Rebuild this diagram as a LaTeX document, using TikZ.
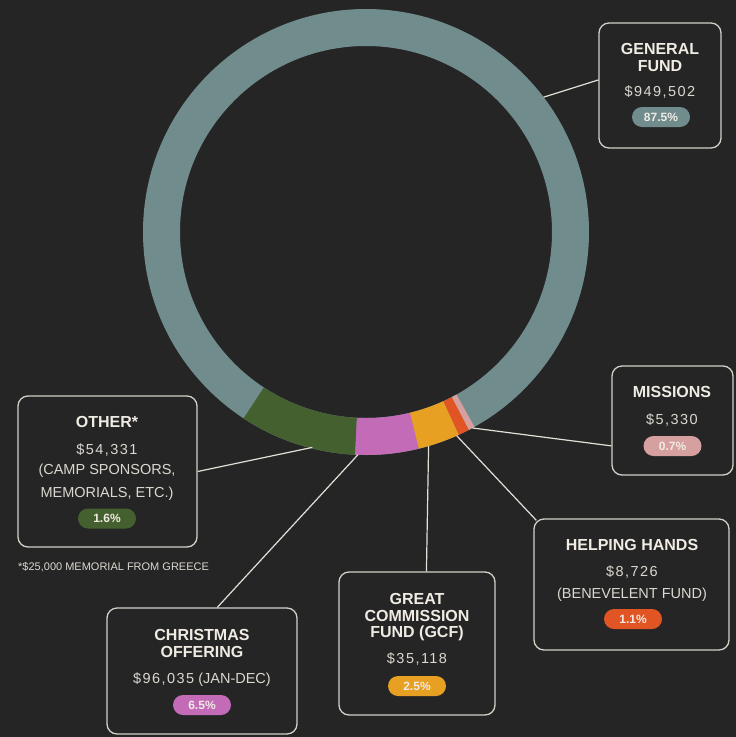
\documentclass[tikz,border=0pt]{standalone}
\usepackage{fontspec}
\setmainfont{Liberation Sans}
\newfontfamily\numfont{Liberation Sans}[LetterSpace=10]
\usetikzlibrary{calc}
\definecolor{bg}{HTML}{252525}
\definecolor{ringgray}{HTML}{718C8D}
\definecolor{ringgreen}{HTML}{44602F}
\definecolor{ringpink}{HTML}{C46BB8}
\definecolor{ringorange}{HTML}{E8A023}
\definecolor{ringred}{HTML}{E15525}
\definecolor{ringlight}{HTML}{D7A0A0}
\definecolor{titlecol}{HTML}{F0ECE4}
\definecolor{valcol}{HTML}{DCD8D0}
\definecolor{boxline}{HTML}{D4D0C8}
\definecolor{linecol}{HTML}{E4E0D8}
\begin{document}
\begin{tikzpicture}[x=1pt,y=-1pt,
  box/.style={draw=boxline, line width=1.3pt, rounded corners=10pt, inner sep=0pt},
  ttl/.style={text=titlecol, font=\bfseries\fontsize{16}{17}\selectfont, anchor=base, inner sep=0pt},
  val/.style={text=valcol, font=\fontsize{14.5}{17}\selectfont, anchor=base, inner sep=0pt},
  pill/.style={rounded corners=10pt, minimum width=58pt, minimum height=20pt, inner sep=0pt, text=titlecol, font=\bfseries\fontsize{12}{12}\selectfont},
  conn/.style={draw=linecol, line width=1.2pt}]
\useasboundingbox (0,0) rectangle (736,737);
\fill[bg] (0,0) rectangle (736,737);

% ring
\begin{scope}[shift={(366,232)}]
  \fill[ringgray, even odd rule] (0,0) circle[radius=223] (0,0) circle[radius=186];
  \fill[ringgreen] plot[domain=92.8:123.3, samples=40] (\x:223) -- plot[domain=123.3:92.8, samples=40] (\x:186) -- cycle;
  \fill[ringpink] plot[domain=76.3:92.8, samples=30] (\x:223) -- plot[domain=92.8:76.3, samples=30] (\x:186) -- cycle;
  \fill[ringorange] plot[domain=65.4:76.3, samples=20] (\x:223) -- plot[domain=76.3:65.4, samples=20] (\x:186) -- cycle;
  \fill[ringred] plot[domain=62.5:65.4, samples=8] (\x:223) -- plot[domain=65.4:62.5, samples=8] (\x:186) -- cycle;
  \fill[ringlight] plot[domain=60.9:62.5, samples=5] (\x:223) -- plot[domain=62.5:60.9, samples=5] (\x:186) -- cycle;
  \coordinate (pGen) at (-37.2:223);
  \coordinate (pMis) at (61.5:223);
  \coordinate (pHh) at (66:223);
  \coordinate (pGcf) at (73.7:223);
  \coordinate (pChr) at (92.1:223);
  \coordinate (pOth) at (104:222);
\end{scope}

% boxes
\node[box, minimum width=122pt, minimum height=125pt] (gen) at (660,85.5) {};
\node[box, minimum width=121pt, minimum height=109pt] (mis) at (672.5,420.5) {};
\node[box, minimum width=179pt, minimum height=151pt] (oth) at (107.5,471.5) {};
\node[box, minimum width=195pt, minimum height=131pt] (hh) at (631.5,584.5) {};
\node[box, minimum width=156pt, minimum height=143pt] (gcf) at (417,643.5) {};
\node[box, minimum width=190pt, minimum height=126pt] (chr) at (202,671) {};

% connectors
\draw[conn] (pGen) -- ($(gen.north west)!0.456!(gen.south west)$);
\draw[conn] (pMis) -- ($(mis.north west)!0.73!(mis.south west)$);
\draw[conn] (pHh) -- ([shift={(3,2)}]hh.north west);
\draw[conn] (pGcf) -- ($(gcf.north west)!0.56!(gcf.north east)$);
\draw[conn] (pChr) -- ($(chr.north west)!0.58!(chr.north east)$);
\draw[conn] (pOth) -- (oth.east);

% General fund
\node[ttl] (gen-t1) at (660,54) {GENERAL};
\node[ttl] (gen-t2) at (660,71) {FUND};
\node[val] (gen-v) at (660,96) {\numfont \$949,502};
\node[pill, fill=ringgray] (gen-p) at (661,117) {87.5\%};

% Missions
\node[ttl] (mis-t) at (672,397) {MISSIONS};
\node[val] (mis-v) at (672,424) {\numfont \$5,330};
\node[pill, fill=ringlight] (mis-p) at (672.5,446) {0.7\%};

% Other
\node[ttl] (oth-t) at (107,427) {OTHER*};
\node[val] (oth-v) at (107,454) {\numfont \$54,331};
\node[val] (oth-v2) at (107,474) {(CAMP SPONSORS,};
\node[val] (oth-v3) at (107,497) {MEMORIALS, ETC.)};
\node[pill, fill=ringgreen] (oth-p) at (107,518.5) {1.6\%};
\node[text=valcol, font=\fontsize{11}{12}\selectfont, anchor=base west, inner sep=0pt] (foot) at (18,570) {*\$25,000 MEMORIAL FROM GREECE};

% Helping hands
\node[ttl] (hh-t) at (632,550) {HELPING HANDS};
\node[val] (hh-v) at (632,576) {\numfont \$8,726};
\node[val] (hh-v2) at (632,598) {(BENEVELENT FUND)};
\node[pill, fill=ringred] (hh-p) at (633,619) {1.1\%};

% GCF
\node[ttl] (gcf-t1) at (417,604) {GREAT};
\node[ttl] (gcf-t2) at (417,621) {COMMISSION};
\node[ttl] (gcf-t3) at (417,637) {FUND (GCF)};
\node[val] (gcf-v) at (417,663) {\numfont \$35,118};
\node[pill, fill=ringorange] (gcf-p) at (417,686) {2.5\%};

% Christmas
\node[ttl] (chr-t1) at (202,640) {CHRISTMAS};
\node[ttl] (chr-t2) at (202,657) {OFFERING};
\node[val] (chr-v) at (202,683) {{\numfont \$96,035}\ (JAN-DEC)};
\node[pill, fill=ringpink] (chr-p) at (202,705) {6.5\%};
\end{tikzpicture}
\end{document}
